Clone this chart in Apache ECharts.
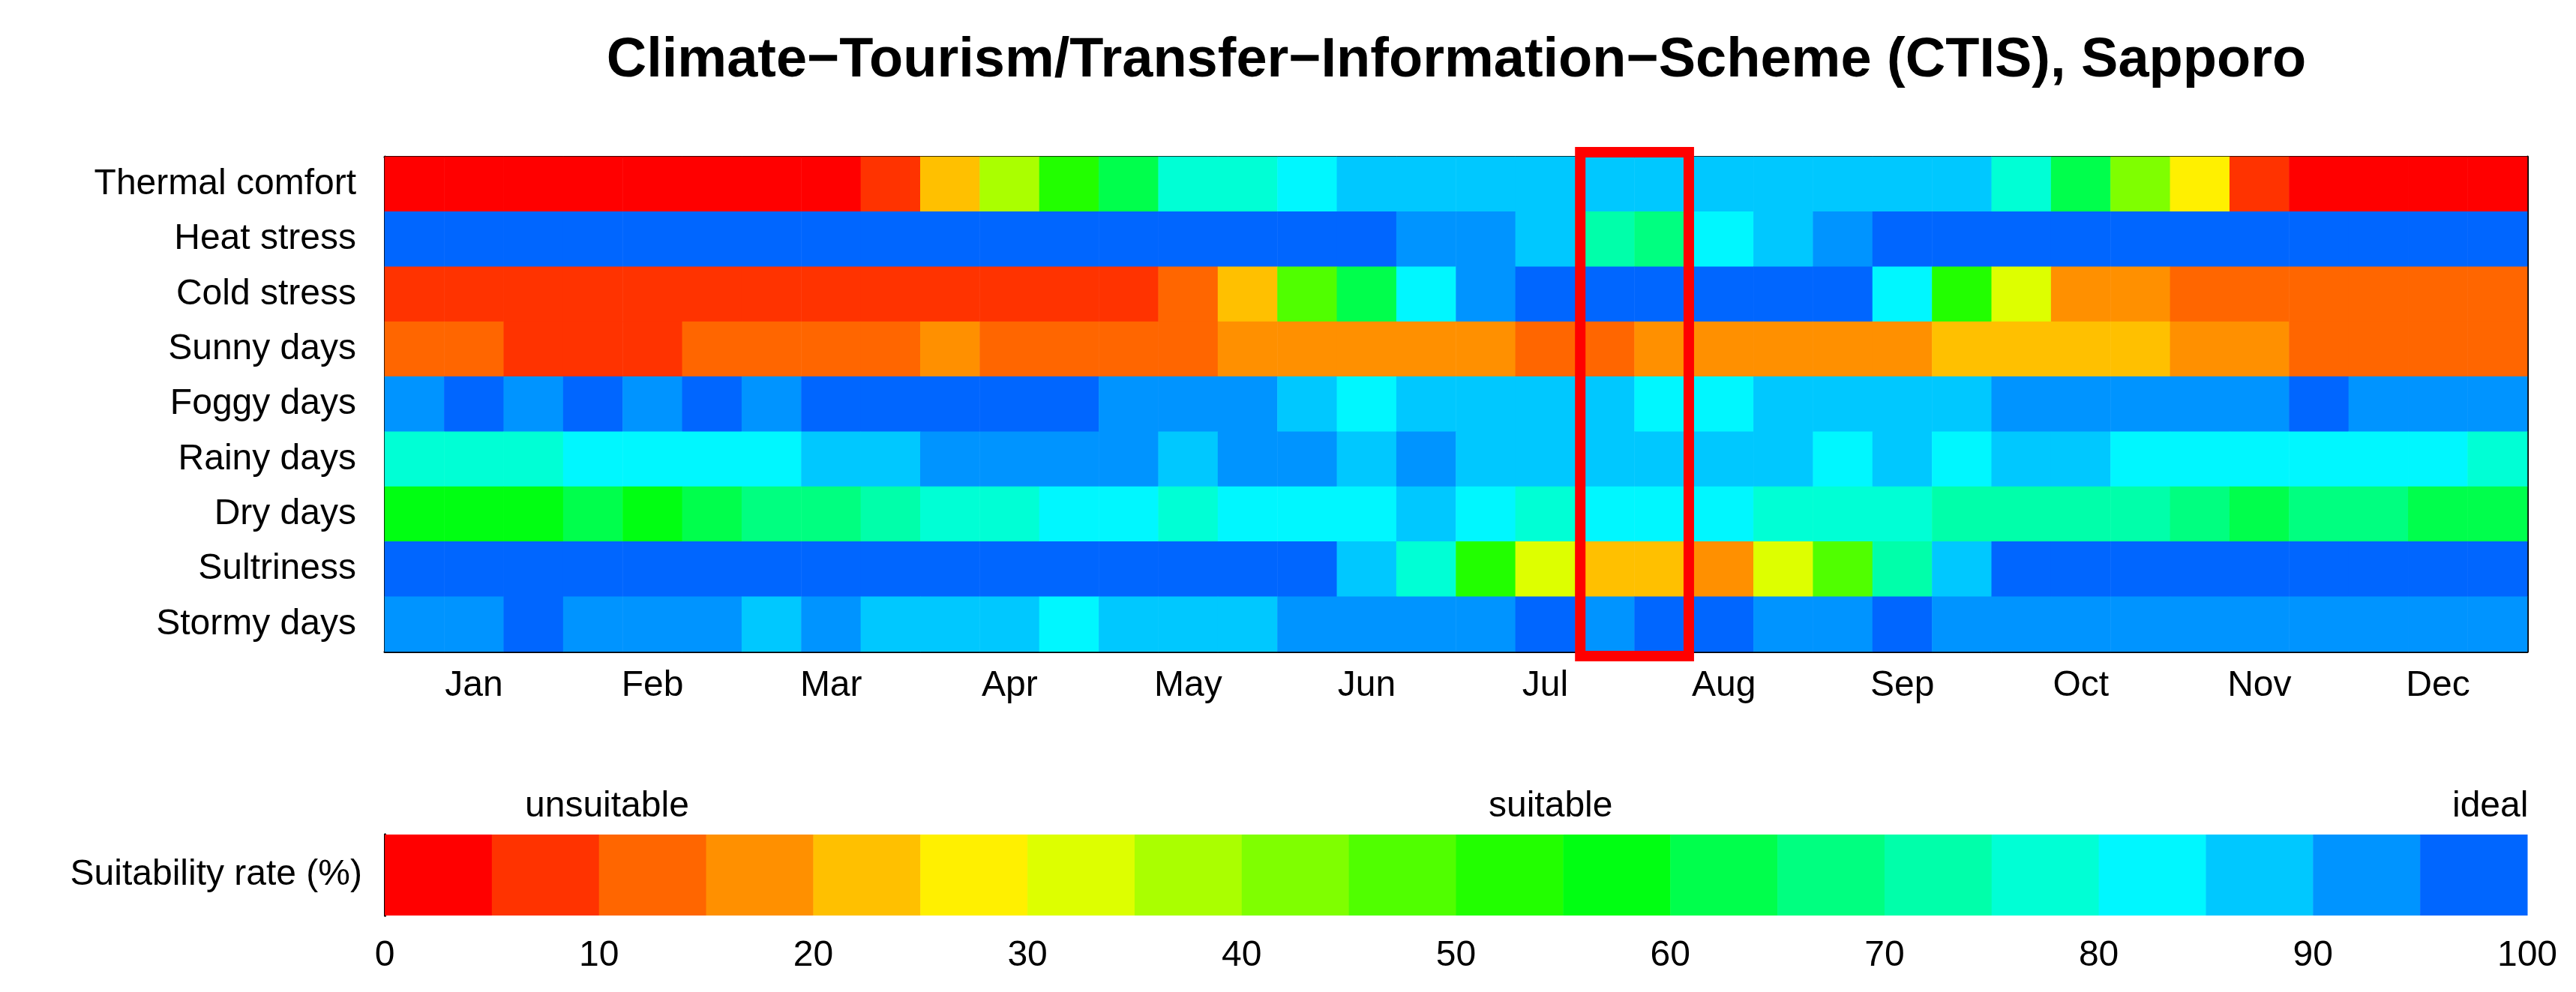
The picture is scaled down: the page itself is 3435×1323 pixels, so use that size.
<!DOCTYPE html>
<html><head><meta charset="utf-8">
<script src="https://cdn.jsdelivr.net/npm/echarts@6/dist/echarts.min.js"></script>
<style>html,body{margin:0;padding:0;background:#fff}#c{width:3435px;height:1323px}</style>
</head><body><div id="c"></div>
<script>
const rows = ['Thermal comfort','Heat stress','Cold stress','Sunny days','Foggy days','Rainy days','Dry days','Sultriness','Stormy days'];
const monthLabels = ['Jan','Feb','Mar','Apr','May','Jun','Jul','Aug','Sep','Oct','Nov','Dec'];
const binColors = ['#ff0000','#ff3300','#ff6600','#ff9000','#ffc000','#fff000','#ddff00','#aaff00','#7fff00','#50ff00','#22ff00','#00ff12','#00ff4c','#00ff80','#00ffaa','#00ffd5','#00f7ff','#00c8ff','#0094ff','#0066ff'];
const colorbarTicks = [0,10,20,30,40,50,60,70,80,90,100];
// suitability rate (%) per 10-day period (36 periods)
const thermalComfort = [2.5,2.5,2.5,2.5,2.5,2.5,2.5,2.5,7.5,22.5,37.5,52.5,62.5,77.5,77.5,82.5,87.5,87.5,87.5,87.5,87.5,87.5,87.5,87.5,87.5,87.5,87.5,77.5,62.5,42.5,27.5,7.5,2.5,2.5,2.5,2.5];
const heatStress = [97.5,97.5,97.5,97.5,97.5,97.5,97.5,97.5,97.5,97.5,97.5,97.5,97.5,97.5,97.5,97.5,97.5,92.5,92.5,87.5,72.5,67.5,82.5,87.5,92.5,97.5,97.5,97.5,97.5,97.5,97.5,97.5,97.5,97.5,97.5,97.5];
const coldStress = [7.5,7.5,7.5,7.5,7.5,7.5,7.5,7.5,7.5,7.5,7.5,7.5,7.5,12.5,22.5,47.5,62.5,82.5,92.5,97.5,97.5,97.5,97.5,97.5,97.5,82.5,52.5,32.5,17.5,17.5,12.5,12.5,12.5,12.5,12.5,12.5];
const sunnyDays = [12.5,12.5,7.5,7.5,7.5,12.5,12.5,12.5,12.5,17.5,12.5,12.5,12.5,12.5,17.5,17.5,17.5,17.5,17.5,12.5,12.5,17.5,17.5,17.5,17.5,17.5,22.5,22.5,22.5,22.5,17.5,17.5,12.5,12.5,12.5,12.5];
const foggyDays = [92.5,97.5,92.5,97.5,92.5,97.5,92.5,97.5,97.5,97.5,97.5,97.5,92.5,92.5,92.5,87.5,82.5,87.5,87.5,87.5,87.5,82.5,82.5,87.5,87.5,87.5,87.5,92.5,92.5,92.5,92.5,92.5,97.5,92.5,92.5,92.5];
const rainyDays = [77.5,77.5,77.5,82.5,82.5,82.5,82.5,87.5,87.5,92.5,92.5,92.5,92.5,87.5,92.5,92.5,87.5,92.5,87.5,87.5,87.5,87.5,87.5,87.5,82.5,87.5,82.5,87.5,87.5,82.5,82.5,82.5,82.5,82.5,82.5,77.5];
const dryDays = [57.5,57.5,57.5,62.5,57.5,62.5,67.5,67.5,72.5,77.5,77.5,82.5,82.5,77.5,82.5,82.5,82.5,87.5,82.5,77.5,82.5,82.5,82.5,77.5,77.5,77.5,72.5,72.5,72.5,72.5,67.5,62.5,67.5,67.5,62.5,62.5];
const sultriness = [97.5,97.5,97.5,97.5,97.5,97.5,97.5,97.5,97.5,97.5,97.5,97.5,97.5,97.5,97.5,97.5,87.5,77.5,52.5,32.5,22.5,22.5,17.5,32.5,47.5,72.5,87.5,97.5,97.5,97.5,97.5,97.5,97.5,97.5,97.5,97.5];
const stormyDays = [92.5,92.5,97.5,92.5,92.5,92.5,87.5,92.5,87.5,87.5,87.5,82.5,87.5,87.5,87.5,92.5,92.5,92.5,92.5,97.5,92.5,97.5,97.5,92.5,92.5,97.5,92.5,92.5,92.5,92.5,92.5,92.5,92.5,92.5,92.5,92.5];
const highlightPeriods = [20,21];

const series = [thermalComfort,heatStress,coldStress,sunnyDays,foggyDays,rainyDays,dryDays,sultriness,stormyDays];
const heatData = [];
series.forEach((arr,r)=>arr.forEach((v,c)=>heatData.push([c,r,v])));
const xCats = [];
for(let i=0;i<36;i++) xCats.push(i%3===1 ? monthLabels[(i-1)/3] : '');
const pieces = binColors.map((col,i)=>({gte:i*5,lt:i*5+5,color:col}));
pieces[19].lte=100; delete pieces[19].lt;
const barData = binColors.map((c,i)=>[i*5,i*5+5,i]);

const FONT = 'Liberation Sans';
const chart = echarts.init(document.getElementById('c'));
chart.setOption({
  animation:false,
  textStyle:{fontFamily:FONT},
  title:{text:'Climate\u2212Tourism/Transfer\u2212Information\u2212Scheme (CTIS), Sapporo',left:1937,top:40,textAlign:'center',
    textStyle:{fontFamily:FONT,fontSize:74,fontWeight:'bold',color:'#000'}},
  grid:[{left:513,right:65,top:209,height:660},{left:513,right:65,top:1113,height:108}],
  xAxis:[
    {gridIndex:0,type:'category',data:xCats,position:'bottom',axisLine:{lineStyle:{color:'#000',width:3}},axisTick:{show:false},
     axisLabel:{interval:0,fontSize:48,color:'#000',margin:22}},
    {gridIndex:0,type:'category',data:xCats,position:'top',axisLine:{lineStyle:{color:'#000',width:3}},axisTick:{show:false},axisLabel:{show:false}},
    {gridIndex:1,type:'value',min:0,max:100,interval:10,position:'bottom',axisLine:{lineStyle:{color:'#000',width:3}},axisTick:{show:false},splitLine:{show:false},
     axisLabel:{fontSize:48,color:'#000',margin:30,formatter:v=>colorbarTicks.includes(v)?String(v):''}},
    {gridIndex:1,type:'value',min:0,max:100,position:'top',axisLine:{lineStyle:{color:'#000',width:3}},axisTick:{show:false},splitLine:{show:false},axisLabel:{show:false}}
  ],
  yAxis:[
    {gridIndex:0,type:'category',data:rows,inverse:true,axisLine:{lineStyle:{color:'#000',width:3}},axisTick:{show:false},
     axisLabel:{fontSize:48,color:'#000',margin:38}},
    {gridIndex:0,type:'category',data:rows,inverse:true,position:'right',axisLine:{lineStyle:{color:'#000',width:3}},axisTick:{show:false},axisLabel:{show:false}},
    {gridIndex:1,type:'category',data:['Suitability rate (%)'],axisLine:{lineStyle:{color:'#000',width:3}},axisTick:{show:false},
     axisLabel:{fontSize:48,color:'#000',margin:30}},
    {gridIndex:1,type:'category',data:[''],position:'right',axisLine:{lineStyle:{color:'#000',width:3}},axisTick:{show:false},axisLabel:{show:false}}
  ],
  visualMap:{show:false,type:'piecewise',seriesIndex:0,dimension:2,pieces:pieces},
  series:[
    {type:'heatmap',xAxisIndex:0,yAxisIndex:0,data:heatData,itemStyle:{borderWidth:0},z:1},
    {type:'custom',xAxisIndex:0,yAxisIndex:0,data:[highlightPeriods],z:5,
     renderItem:(params,api)=>{
       const a=api.coord([api.value(0),0]);const b=api.coord([api.value(1),8]);
       const s=api.size([1,1]);
       const x0=a[0]-s[0]/2, x1=b[0]+s[0]/2, y0=a[1]-s[1]/2-6, y1=b[1]+s[1]/2+6;
       return {type:'rect',shape:{x:x0+7,y:y0,width:x1-x0-14,height:y1-y0},style:{fill:'none',stroke:'#ff0000',lineWidth:14}};
     }},
    {type:'custom',xAxisIndex:2,yAxisIndex:2,data:barData,z:1,
     renderItem:(params,api)=>{
       const a=api.coord([api.value(0),0]);const b=api.coord([api.value(1),0]);
       const h=api.size([0,1])[1];
       return {type:'rect',shape:{x:a[0],y:a[1]-h/2,width:b[0]-a[0]+0.5,height:h},style:{fill:binColors[api.value(2)]}};
     }}
  ],
  graphic:[
    {type:'text',left:700,top:1052,style:{text:'unsuitable',font:'48px "Liberation Sans"',fill:'#000',textAlign:'center'}},
    {type:'text',left:1985,top:1052,style:{text:'suitable',font:'48px "Liberation Sans"',fill:'#000',textAlign:'center'}},
    {type:'text',left:3270,top:1052,style:{text:'ideal',font:'48px "Liberation Sans"',fill:'#000',textAlign:'center'}}
  ]
});
</script></body></html>
